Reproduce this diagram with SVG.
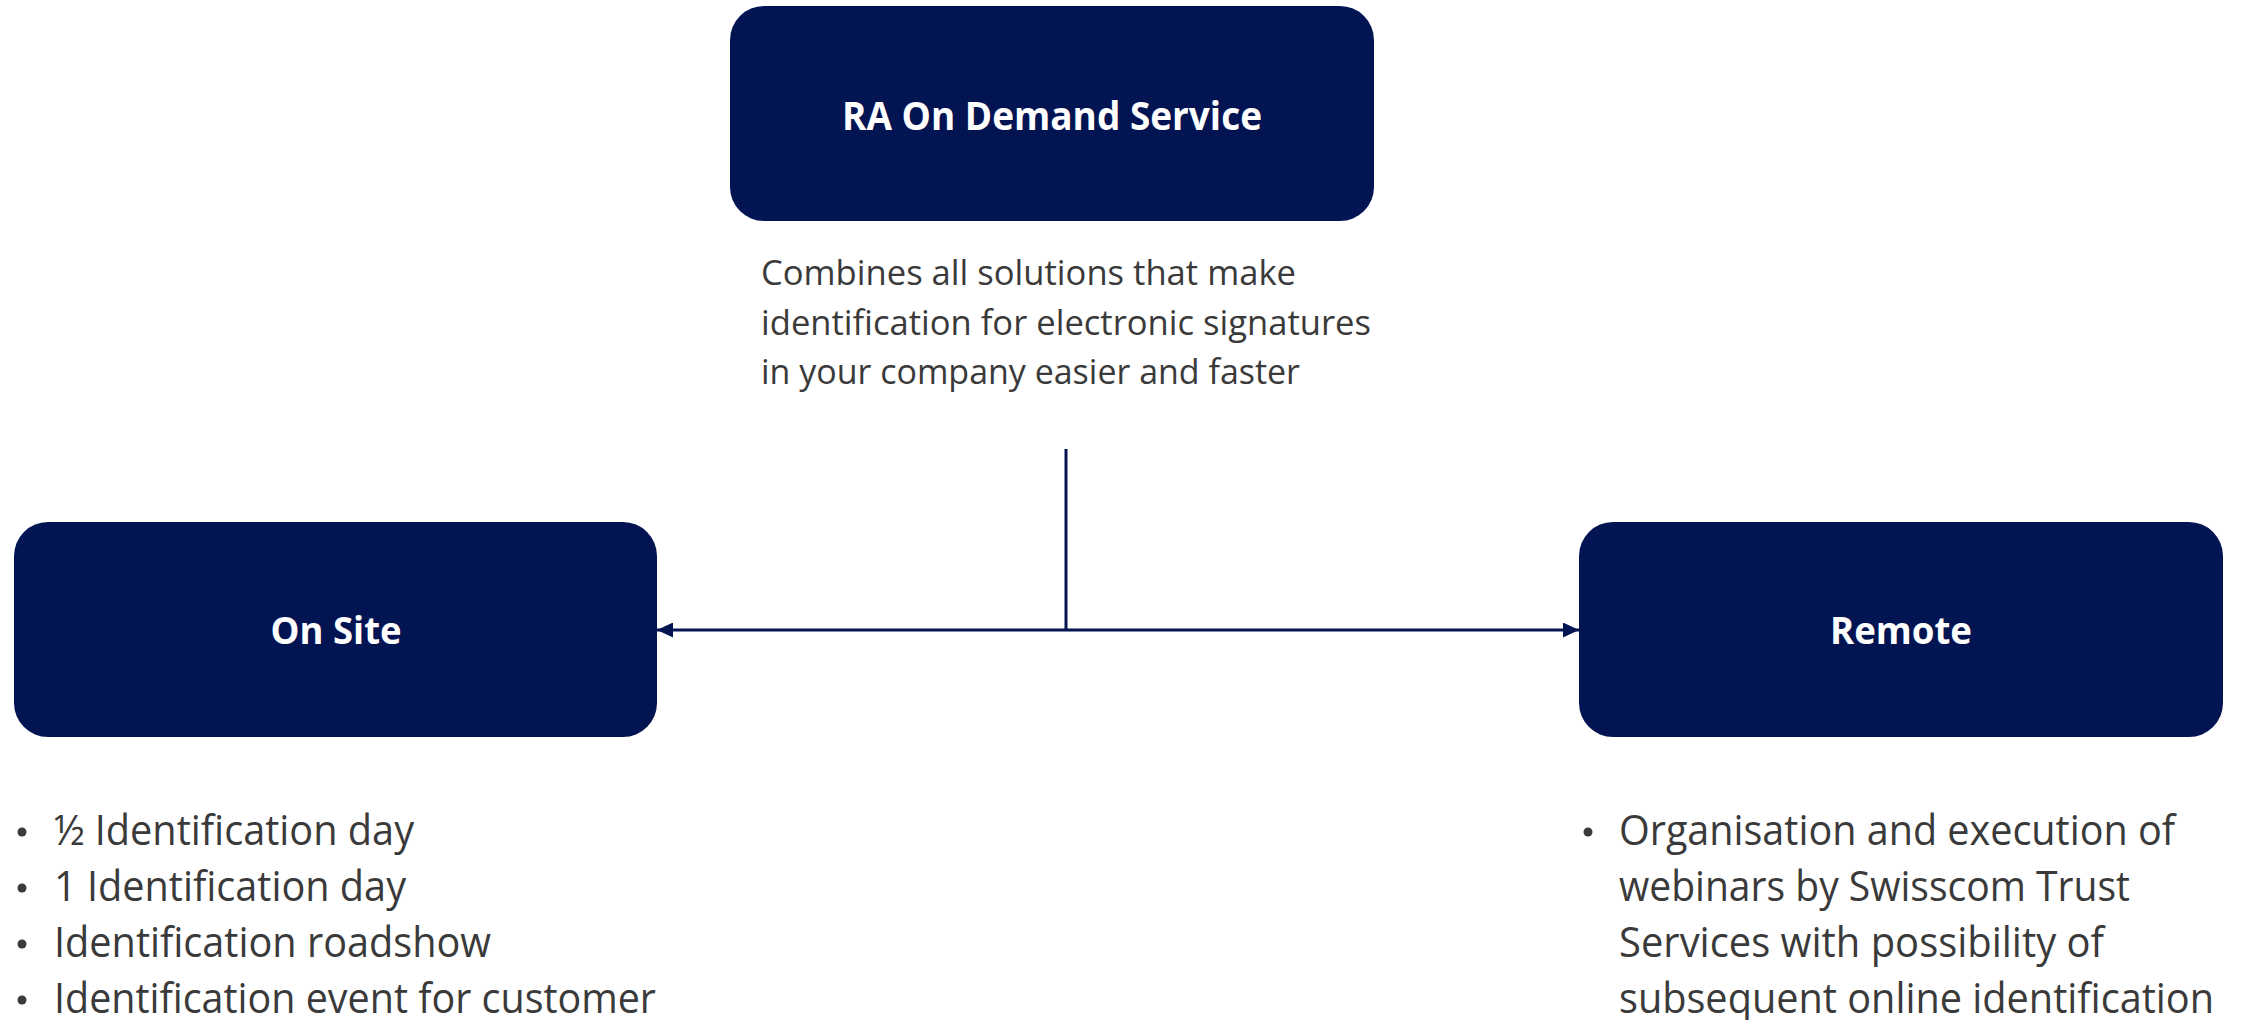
<svg xmlns="http://www.w3.org/2000/svg" width="2244" height="1020" viewBox="0 0 2244 1020">
  <style>
    .box { fill: #031453; }
    .title { font-family: "Open Sans", "Liberation Sans", sans-serif; font-weight: bold; fill: #ffffff; text-anchor: middle; }
    .body { font-family: "Open Sans", "Liberation Sans", sans-serif; fill: #3a3a3a; }
    .bullet { fill: #3a3a3a; }
    .conn { stroke: #031453; stroke-width: 3; fill: none; }
  </style>
  <defs>
    <marker id="arrow" markerUnits="userSpaceOnUse" markerWidth="16" markerHeight="15" viewBox="0 0 16 15" refX="16" refY="7.5" orient="auto">
      <path d="M0,0 L16,7.5 L0,15 z" fill="#031453"/>
    </marker>
  </defs>
  <rect width="2244" height="1020" fill="#ffffff"/>

  <g id="connectors">
    <line class="conn" x1="1066" y1="449" x2="1066" y2="630"/>
    <line class="conn" x1="1066" y1="630" x2="657" y2="630" marker-end="url(#arrow)"/>
    <line class="conn" x1="1066" y1="630" x2="1579" y2="630" marker-end="url(#arrow)"/>
  </g>

  <g id="ra-on-demand">
    <rect class="box" x="730" y="6" width="644" height="215" rx="34" ry="34"/>
    <text class="title" x="1052" y="130" font-size="39" textLength="420" lengthAdjust="spacingAndGlyphs">RA On Demand Service</text>
    <g class="body" font-size="35">
      <text x="761" y="285" textLength="535" lengthAdjust="spacingAndGlyphs">Combines all solutions that make</text>
      <text x="761" y="335" textLength="610" lengthAdjust="spacingAndGlyphs">identification for electronic signatures</text>
      <text x="761" y="384" textLength="539" lengthAdjust="spacingAndGlyphs">in your company easier and faster</text>
    </g>
  </g>

  <g id="on-site">
    <rect class="box" x="14" y="522" width="643" height="215" rx="34" ry="34"/>
    <text class="title" x="336" y="644" font-size="38" textLength="131" lengthAdjust="spacingAndGlyphs">On Site</text>
    <g class="body" font-size="42">
      <circle class="bullet" cx="22" cy="832" r="4.5"/>
      <text x="54" y="845" textLength="360" lengthAdjust="spacingAndGlyphs">½ Identification day</text>
      <circle class="bullet" cx="22" cy="888" r="4.5"/>
      <text x="54" y="901" textLength="352" lengthAdjust="spacingAndGlyphs">1 Identification day</text>
      <circle class="bullet" cx="22" cy="944" r="4.5"/>
      <text x="54" y="957" textLength="437" lengthAdjust="spacingAndGlyphs">Identification roadshow</text>
      <circle class="bullet" cx="22" cy="1000" r="4.5"/>
      <text x="54" y="1013" textLength="602" lengthAdjust="spacingAndGlyphs">Identification event for customer</text>
    </g>
  </g>

  <g id="remote">
    <rect class="box" x="1579" y="522" width="644" height="215" rx="34" ry="34"/>
    <text class="title" x="1901" y="644" font-size="38" textLength="142" lengthAdjust="spacingAndGlyphs">Remote</text>
    <g class="body" font-size="42">
      <circle class="bullet" cx="1588" cy="832" r="4.5"/>
      <text x="1619" y="845" textLength="556" lengthAdjust="spacingAndGlyphs">Organisation and execution of</text>
      <text x="1619" y="901" textLength="511" lengthAdjust="spacingAndGlyphs">webinars by Swisscom Trust</text>
      <text x="1619" y="957" textLength="485" lengthAdjust="spacingAndGlyphs">Services with possibility of</text>
      <text x="1619" y="1013" textLength="595" lengthAdjust="spacingAndGlyphs">subsequent online identification</text>
    </g>
  </g>
</svg>
